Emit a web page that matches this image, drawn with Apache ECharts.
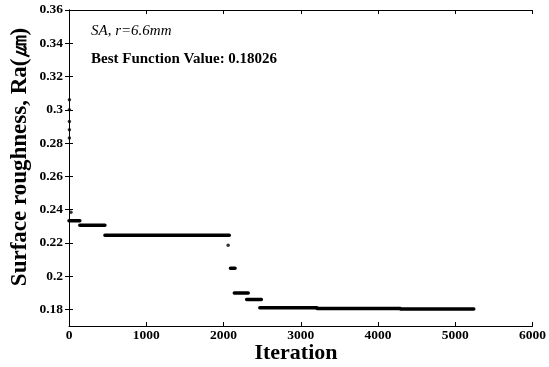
<!DOCTYPE html>
<html>
<head>
<meta charset="utf-8">
<script src="https://cdn.jsdelivr.net/npm/echarts@6/dist/echarts.min.js"></script>
<style>
  html, body { margin: 0; padding: 0; background: #fff; }
  #chart { width: 549px; height: 367px; }
</style>
</head>
<body>
<div id="chart"></div>
<script>
// step segments of the best value found so far
var segStart = [0, 140, 465, 2090, 2140, 2300, 2470, 3210, 4290];
var segEnd   = [140, 465, 2075, 2150, 2320, 2490, 3210, 4290, 5240];
var segValue = [0.2333, 0.2306, 0.2246, 0.2047, 0.1899, 0.1859, 0.1809, 0.1805, 0.18026];

// isolated early / transition points
var dotIter  = [5, 5, 5, 5, 5, 25, 2060];
var dotValue = [0.306, 0.300, 0.293, 0.288, 0.283, 0.2384, 0.2185];

var yTicks = [0.18, 0.2, 0.22, 0.24, 0.26, 0.28, 0.3, 0.32, 0.34, 0.36];
var xTicks = [0, 1000, 2000, 3000, 4000, 5000, 6000];

var serif = '"Liberation Serif", "Times New Roman", serif';

var lineData = [];
for (var i = 0; i < segValue.length; i++) {
  lineData.push([segStart[i], segValue[i]]);
  lineData.push([segEnd[i], segValue[i]]);
  lineData.push(null);
}
var dots = dotIter.map(function (x, i) { return [x, dotValue[i]]; });

var chart = echarts.init(document.getElementById('chart'));

var xBase = {
  type: 'value', min: 0, max: 6000, interval: 1000,
  axisLine: { show: true, lineStyle: { color: '#000', width: 1 } },
  axisTick: { show: true, inside: true, length: 4, customValues: xTicks, lineStyle: { color: '#000' } },
  splitLine: { show: false }
};
var yBase = {
  type: 'value', min: 0.17, max: 0.36,
  axisLine: { show: true, lineStyle: { color: '#000', width: 1 } },
  axisTick: { show: true, inside: true, length: 4, customValues: yTicks, lineStyle: { color: '#000' } },
  splitLine: { show: false }
};

chart.setOption({
  animation: false,
  backgroundColor: '#fff',
  grid: { left: 69, right: 15, top: 10, bottom: 41 },
  xAxis: [
    Object.assign({}, xBase, {
      position: 'bottom',
      axisLabel: {
        fontFamily: serif, fontWeight: 'bold', fontSize: 13.5, color: '#000', margin: 3,
        customValues: xTicks,
        formatter: function (v) { return String(v); }
      }
    }),
    Object.assign({}, xBase, { position: 'top', axisLabel: { show: false } })
  ],
  yAxis: [
    Object.assign({}, yBase, {
      position: 'left',
      axisLabel: {
        fontFamily: serif, fontWeight: 'bold', fontSize: 13.5, color: '#000', margin: 6,
        customValues: yTicks,
        formatter: function (v) { return String(Number(v.toFixed(2))); }
      }
    }),
    Object.assign({}, yBase, { position: 'right', axisLabel: { show: false } })
  ],
  graphic: [
    { type: 'text', left: 91, top: 24,
      style: { text: 'SA, r=6.6mm', fontFamily: serif, fontStyle: 'italic', fontSize: 15, fill: '#000' } },
    { type: 'text', left: 91, top: 52,
      style: { text: 'Best Function Value: 0.18026', fontFamily: serif, fontWeight: 'bold', fontSize: 15, fill: '#000' } },
    { type: 'text', x: 20, y: 157, rotation: Math.PI / 2,
      style: { text: 'Surface roughness, Ra(㎛)', fontFamily: serif, fontWeight: 'bold', fontSize: 23,
        fill: '#000', align: 'center', verticalAlign: 'middle' } },
    { type: 'text', x: 296, y: 353,
      style: { text: 'Iteration', fontFamily: serif, fontWeight: 'bold', fontSize: 22,
        fill: '#000', align: 'center', verticalAlign: 'middle' } }
  ],
  series: [
    {
      type: 'line', data: lineData, connectNulls: false,
      showSymbol: false, symbol: 'none',
      lineStyle: { color: '#000', width: 3.5, cap: 'round' }
    },
    {
      type: 'scatter', data: dots, symbol: 'circle', symbolSize: 3.5,
      itemStyle: { color: '#000' }
    }
  ]
});
</script>
</body>
</html>
